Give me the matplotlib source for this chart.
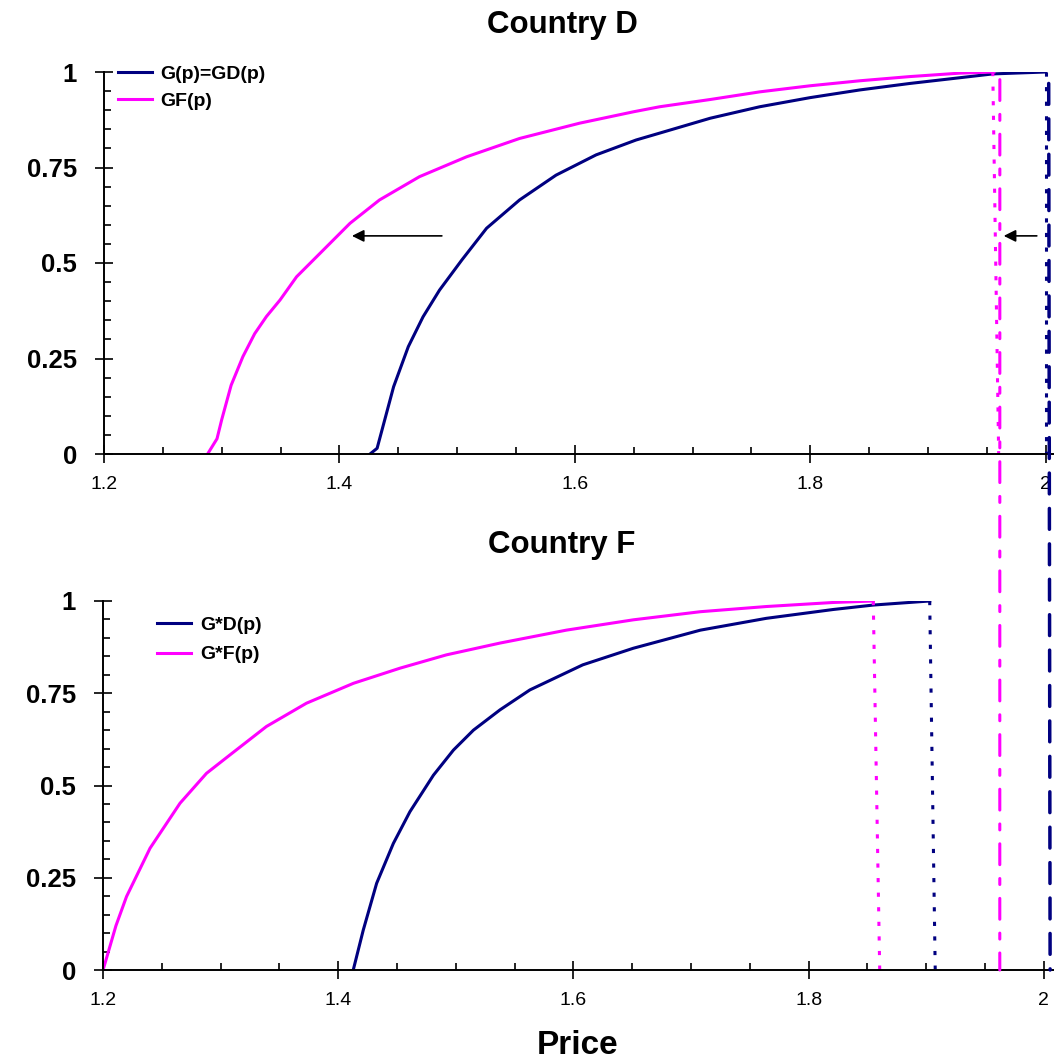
import matplotlib.pyplot as plt
from matplotlib.patches import ConnectionPatch

plt.rcParams['font.family'] = ['Liberation Sans', 'DejaVu Sans']
plt.rcParams['lines.scale_dashes'] = False

NAVY = '#000080'
PINK = '#FF00FF'

# Country D: G(p)=GD(p) and GF(p)
gd_p = [1.426, 1.432, 1.446, 1.4585, 1.471, 1.485, 1.504, 1.525, 1.553, 1.584, 1.618,
        1.652, 1.672, 1.715, 1.757, 1.800, 1.842, 1.8845, 1.927, 1.955, 2.0]
gd_g = [0, 0.015, 0.176, 0.281, 0.359, 0.429, 0.508, 0.591, 0.665, 0.730, 0.783,
        0.822, 0.840, 0.879, 0.909, 0.933, 0.953, 0.970, 0.985, 0.995, 1.0]
gf_p = [1.288, 1.296, 1.300, 1.308, 1.318, 1.328, 1.338, 1.3495, 1.3636, 1.3834, 1.409,
        1.434, 1.468, 1.508, 1.553, 1.604, 1.650, 1.672, 1.715, 1.757, 1.800, 1.842,
        1.8845, 1.927, 1.956]
gf_g = [0, 0.04, 0.09, 0.18, 0.255, 0.315, 0.36, 0.403, 0.464, 0.525, 0.604,
        0.665, 0.726, 0.778, 0.826, 0.866, 0.896, 0.909, 0.928, 0.948, 0.964, 0.977,
        0.988, 0.997, 1.0]

# Country F: G*D(p) and G*F(p)
sd_p = [1.4128, 1.4213, 1.4327, 1.4469, 1.461, 1.481, 1.498, 1.515, 1.5376, 1.563,
        1.608, 1.651, 1.708, 1.764, 1.821, 1.855, 1.903]
sd_g = [0, 0.108, 0.235, 0.343, 0.429, 0.528, 0.596, 0.650, 0.705, 0.759,
        0.827, 0.872, 0.921, 0.953, 0.977, 0.989, 1.0]
sf_p = [1.200, 1.2017, 1.211, 1.220, 1.240, 1.2655, 1.288, 1.308, 1.339, 1.373, 1.413,
        1.4526, 1.492, 1.5376, 1.594, 1.651, 1.708, 1.764, 1.821, 1.855]
sf_g = [0, 0.018, 0.12, 0.199, 0.330, 0.452, 0.533, 0.583, 0.660, 0.723, 0.777,
        0.818, 0.854, 0.886, 0.921, 0.949, 0.971, 0.985, 0.996, 1.0]

# drop lines at the upper ends (price at G=1, price at G=0)
top_drop_gd = (2.0, 2.0)
top_drop_gf = (1.955, 1.960)
bot_drop_sd = (1.903, 1.9077)
bot_drop_sf = (1.855, 1.8605)
# long lines running through both panels (price in top panel, price in bottom panel)
long_gd = (2.0025, 2.0054)
long_gf = (1.961, 1.9626)

# arrows in the top panel (from, to, level)
arrow1 = (1.487, 1.4106, 0.571)
arrow2 = (1.9924, 1.9643, 0.571)

x_ticks = [1.2, 1.4, 1.6, 1.8, 2.0]
x_labels = ['1.2', '1.4', '1.6', '1.8', '2']
y_ticks = [0, 0.25, 0.5, 0.75, 1]
y_labels = ['0', '0.25', '0.5', '0.75', '1']

W, H = 1054, 1064
fig = plt.figure(figsize=(W / 100, H / 100), dpi=100)
ax1 = fig.add_axes([104 / W, 1 - 454 / H, 950 / W, 382 / H])
ax2 = fig.add_axes([103 / W, 1 - 970 / H, 951 / W, 369 / H])


def style_axes(ax, xmax):
    ax.set_xlim(1.2, xmax)
    ax.set_ylim(0, 1)
    for s in ['top', 'right']:
        ax.spines[s].set_visible(False)
    for s in ['left', 'bottom']:
        ax.spines[s].set_linewidth(1.4)
    ax.set_xticks(x_ticks)
    ax.set_xticklabels(x_labels, fontsize=14)
    ax.set_xticks([1.25, 1.3, 1.35, 1.45, 1.5, 1.55, 1.65, 1.7, 1.75, 1.85, 1.9, 1.95], minor=True)
    ax.set_yticks(y_ticks)
    ax.set_yticklabels(y_labels, fontsize=18.5, fontweight='bold')
    ax.set_yticks([i * 0.05 for i in range(21) if i % 5], minor=True)
    ax.tick_params(axis='both', which='major', direction='inout', length=13, width=1.2)
    ax.tick_params(axis='both', which='minor', direction='in', length=5, width=1.2)
    ax.tick_params(axis='x', which='major', pad=9)
    ax.tick_params(axis='y', which='major', pad=13)


style_axes(ax1, 2.007)
style_axes(ax2, 2.0087)

lw = 2.2
dotted = (0, (3, 7.5))
leg_kw = dict(loc='upper left', frameon=False, handlelength=1.75, handletextpad=0.45,
              borderpad=0, borderaxespad=0, prop=dict(size=14, weight='bold'))

# top panel
ax1.plot(gd_p, gd_g, color=NAVY, lw=lw, label='G(p)=GD(p)')
ax1.plot(gf_p, gf_g, color=PINK, lw=lw, label='GF(p)')
ax1.plot(top_drop_gf, [1, 0], color=PINK, lw=lw, ls=dotted, clip_on=False)
ax1.plot(top_drop_gd, [1, 0], color=NAVY, lw=lw, ls=dotted, clip_on=False)
for a in [arrow1, arrow2]:
    ax1.annotate('', xy=(a[1], a[2]), xytext=(a[0], a[2]),
                 arrowprops=dict(arrowstyle='-|>', color='black', lw=1.2,
                                 mutation_scale=18, shrinkA=0, shrinkB=0))
ax1.legend(bbox_to_anchor=(0.0147, 1.018), labelspacing=0.5, **leg_kw)

# bottom panel
ax2.plot(sd_p, sd_g, color=NAVY, lw=lw, label='G*D(p)')
ax2.plot(sf_p, sf_g, color=PINK, lw=lw, label='G*F(p)')
ax2.plot(bot_drop_sf, [1, 0], color=PINK, lw=lw, ls=dotted)
ax2.plot(bot_drop_sd, [1, 0], color=NAVY, lw=lw, ls=dotted)
ax2.legend(bbox_to_anchor=(0.0568, 0.958), labelspacing=0.6, **leg_kw)

# long lines through both panels
con_gf = ConnectionPatch(xyA=(long_gf[0], 0.98), coordsA=ax1.transData,
                         xyB=(long_gf[1], 0), coordsB=ax2.transData,
                         color=PINK, lw=lw, linestyle=(0, (15, 10, 4.3, 10)))
con_gd = ConnectionPatch(xyA=(long_gd[0], 0.97), coordsA=ax1.transData,
                         xyB=(long_gd[1], 0), coordsB=ax2.transData,
                         color=NAVY, lw=2.5, linestyle=(0, (15, 10.5)))
fig.add_artist(con_gf)
fig.add_artist(con_gd)

fig.text(562 / W, 1 - 25 / H, 'Country D', ha='center', va='center',
         fontsize=22.5, fontweight='bold')
fig.text(562 / W, 1 - 545 / H, 'Country F', ha='center', va='center',
         fontsize=22.5, fontweight='bold')
fig.text(578 / W, 1 - 1045 / H, 'Price', ha='center', va='center',
         fontsize=24, fontweight='bold')

fig.savefig('out.png', dpi=100)
